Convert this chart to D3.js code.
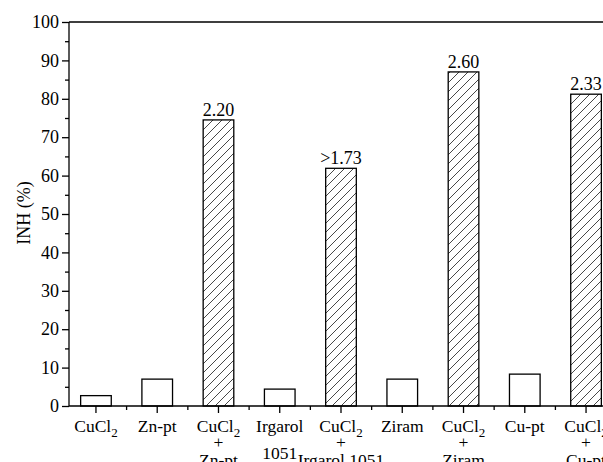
<!DOCTYPE html>
<html>
<head>
<meta charset="utf-8">
<script src="https://cdn.jsdelivr.net/npm/d3@7"></script>
<style>
  html, body { margin: 0; padding: 0; background: #fff; overflow: hidden; }
  svg { display: block; }
  svg text { font-family: 'Liberation Serif', 'DejaVu Serif', serif; fill: #000; }
</style>
</head>
<body>
<svg id="chart" width="603" height="462"></svg>
<script>
// Treatments, in plotting order
const categories = ["CuCl2", "Zn-pt", "CuCl2+Zn-pt", "Irgarol 1051", "CuCl2+Irgarol 1051",
                    "Ziram", "CuCl2+Ziram", "Cu-pt", "CuCl2+Cu-pt"];
// Multi-line axis labels for each treatment ("CuCl2" gets a subscript 2)
const labelLines = [
  ["CuCl2"], ["Zn-pt"], ["CuCl2", "+", "Zn-pt"], ["Irgarol", "1051"],
  ["CuCl2", "+", "Irgarol 1051"], ["Ziram"], ["CuCl2", "+", "Ziram"], ["Cu-pt"],
  ["CuCl2", "+", "Cu-pt"]
];
// Inhibition (%)
const inhValues = [2.7, 7.0, 74.5, 4.4, 61.9, 7.0, 87.0, 8.3, 81.2];
// Synergy ratios printed above the combination bars
const ratioLabels = [null, null, "2.20", null, ">1.73", null, "2.60", null, "2.33"];
// Combination treatments are hatched
const isCombination = [false, false, true, false, true, false, true, false, true];
const yTicks = [0, 10, 20, 30, 40, 50, 60, 70, 80, 90, 100];
const yMinorTicks = [5, 15, 25, 35, 45, 55, 65, 75, 85, 95];

const FONT = "'Liberation Serif', 'DejaVu Serif', serif";
const svg = d3.select("#chart").style("font-family", FONT);
const plotLeft = 69, plotRight = 613, plotTop = 22, plotBottom = 406;

const x = d3.scaleBand().domain(categories).range([plotLeft, plotRight])
  .paddingInner(0.5).paddingOuter(0.19);
const y = d3.scaleLinear().domain([0, 100]).range([plotBottom, plotTop]);

// Diagonal hatch for combination bars
const defs = svg.append("defs");
const pat = defs.append("pattern").attr("id", "hatch")
  .attr("patternUnits", "userSpaceOnUse").attr("width", 9).attr("height", 9);
pat.append("path").attr("d", "M0,9 L9,0 M-1,1 L1,-1 M8,10 L10,8")
  .attr("stroke", "#333").attr("stroke-width", 0.9).attr("fill", "none");

// Bars
svg.append("g").selectAll("rect").data(categories).join("rect")
  .attr("x", d => x(d))
  .attr("y", (d, i) => y(inhValues[i]))
  .attr("width", x.bandwidth())
  .attr("height", (d, i) => y(0) - y(inhValues[i]))
  .attr("fill", (d, i) => isCombination[i] ? "url(#hatch)" : "#fff")
  .attr("stroke", "#000").attr("stroke-width", 1.3);

// Ratio labels
svg.append("g").selectAll("text").data(categories.filter((d, i) => ratioLabels[i]))
  .join("text")
  .attr("x", d => x(d) + x.bandwidth() / 2)
  .attr("y", d => y(inhValues[categories.indexOf(d)]) - 4)
  .attr("text-anchor", "middle").style("font-size", "18px").style("font-family", FONT)
  .text(d => ratioLabels[categories.indexOf(d)]);

// Frame: top line (plot continues past the right edge)
svg.append("path")
  .attr("d", `M${plotLeft},${plotTop} H${plotRight} V${plotBottom}`)
  .attr("fill", "none").attr("stroke", "#000").attr("stroke-width", 1.3);

// Y axis
const yAxis = svg.append("g").attr("transform", `translate(${plotLeft},0)`)
  .call(d3.axisLeft(y).tickValues(yTicks).tickSize(7).tickPadding(3).tickFormat(d3.format("d")));
yAxis.attr("font-family", null).attr("font-size", null);
yAxis.selectAll("text").style("font-size", "18px").style("font-family", FONT).attr("fill", "#000");
yAxis.selectAll("line, path").attr("stroke", "#000").attr("stroke-width", 1.3);
yAxis.select(".domain").attr("d", `M0,${plotTop}V${plotBottom}`);
svg.append("g").attr("transform", `translate(${plotLeft},0)`)
  .call(d3.axisLeft(y).tickValues(yMinorTicks).tickSize(4).tickFormat(""))
  .call(g => g.select(".domain").remove())
  .selectAll("line").attr("stroke", "#000").attr("stroke-width", 1.3);

// X axis: major ticks at bar centres, minor ticks between bars
const centres = categories.map(c => x(c) + x.bandwidth() / 2);
const xAxisG = svg.append("g");
xAxisG.append("line").attr("x1", plotLeft).attr("x2", plotRight)
  .attr("y1", plotBottom).attr("y2", plotBottom)
  .attr("stroke", "#000").attr("stroke-width", 1.3);
xAxisG.selectAll("line.major").data(centres).join("line").attr("class", "major")
  .attr("x1", d => d).attr("x2", d => d).attr("y1", plotBottom).attr("y2", plotBottom + 7)
  .attr("stroke", "#000").attr("stroke-width", 1.3);
xAxisG.selectAll("line.minor").data(centres.slice(1)).join("line").attr("class", "minor")
  .attr("x1", (d, i) => (d + centres[i]) / 2).attr("x2", (d, i) => (d + centres[i]) / 2)
  .attr("y1", plotBottom).attr("y2", plotBottom + 4)
  .attr("stroke", "#000").attr("stroke-width", 1.3);

// Category labels
const lineY3 = [432, 448, 466];
const lineY2 = [432, 459];
categories.forEach((c, i) => {
  const lines = labelLines[i];
  const ys = lines.length === 3 ? lineY3 : lines.length === 2 ? lineY2 : [432];
  lines.forEach((ln, j) => {
    const t = svg.append("text").attr("x", centres[i]).attr("y", ys[j])
      .attr("text-anchor", "middle").style("font-size", "17.5px").style("font-family", FONT);
    if (ln === "CuCl2") {
      t.append("tspan").text("CuCl");
      t.append("tspan").attr("dy", 5).style("font-size", "13px").text("2");
    } else {
      t.text(ln);
    }
  });
});

// Y axis title
svg.append("text")
  .attr("transform", `translate(30,213) rotate(-90)`)
  .attr("text-anchor", "middle").style("font-size", "18px").style("font-family", FONT)
  .text("INH (%)");
</script>
</body>
</html>
